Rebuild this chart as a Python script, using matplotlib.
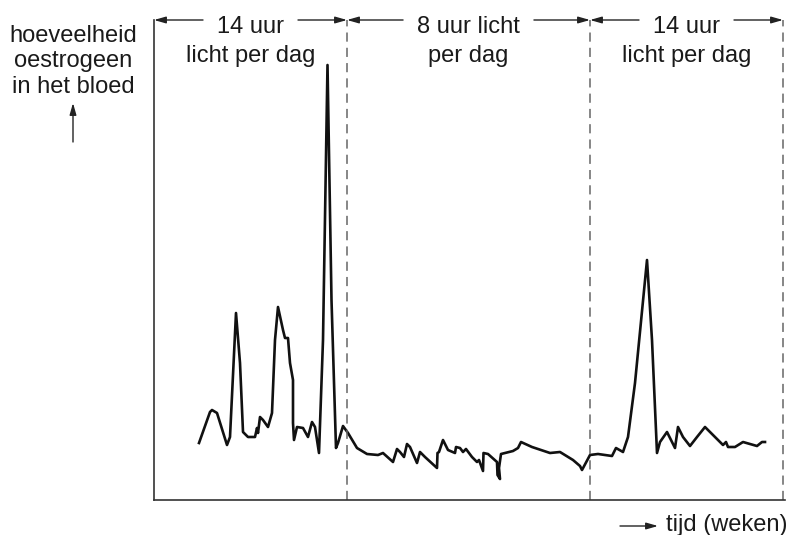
import matplotlib
matplotlib.use('Agg')
import matplotlib.pyplot as plt

# oestrogen curve (time in weeks, arbitrary level)
weeks = [4.5, 5.6, 5.8, 6.3, 7.3, 7.6, 8.2, 8.6, 8.9, 9.4, 10.1, 10.3, 10.4, 10.6,
         10.9, 11.4, 11.8, 12.1, 12.4, 12.9, 13.1, 13.4, 13.6, 13.9, 13.9, 14.0,
         14.3, 14.9, 15.4, 15.8, 16.1, 16.5, 16.9, 17.35, 17.75, 18.2, 18.4, 18.9,
         19.4, 20.3, 21.3, 22.4, 22.9, 23.9, 24.3, 24.6, 25.0, 25.3, 25.6, 26.3,
         26.6, 27.1, 28.3, 28.35, 28.5, 28.9, 29.4, 30.1, 30.2, 30.6, 30.9, 31.2,
         31.8, 32.3, 32.5, 32.9, 32.95, 33.4, 34.3, 34.35, 34.6, 34.5, 34.7, 35.9,
         36.4, 36.7, 37.8, 39.6, 40.6, 41.9, 42.6, 42.8, 43.6, 44.4, 45.8, 46.2,
         46.9, 47.4, 48.1, 49.3, 49.8, 50.3, 50.6, 51.3, 52.1, 52.4, 52.9, 53.6,
         54.3, 55.1, 56.9, 57.2, 57.4, 58.1, 58.9, 60.3, 60.8, 61.1]
level = [5.7, 8.8, 9.0, 8.7, 5.5, 6.3, 18.7, 13.7, 6.8, 6.3, 6.3, 7.2, 6.7, 8.3,
         8.0, 7.3, 8.7, 16.0, 19.3, 17.0, 16.2, 16.2, 13.7, 12.0, 7.7, 6.0,
         7.3, 7.2, 6.3, 7.8, 7.3, 4.7, 16.0, 43.5, 20.0, 5.2, 5.7, 7.4,
         6.7, 5.2, 4.6, 4.5, 4.7, 3.8, 5.1, 4.8, 4.3, 5.6, 5.3, 3.7,
         4.8, 4.3, 3.2, 4.7, 4.8, 6.0, 5.0, 4.7, 5.3, 5.2, 4.8, 5.1,
         4.3, 3.8, 4.0, 2.9, 4.7, 4.6, 3.8, 2.5, 2.1, 3.2, 4.6, 4.9,
         5.2, 5.8, 5.3, 4.7, 4.8, 4.0, 3.4, 3.0, 4.5, 4.6, 4.4, 5.2,
         4.8, 6.3, 11.7, 24.0, 16.0, 4.7, 5.8, 6.8, 5.2, 7.3, 6.3, 5.4,
         6.3, 7.3, 5.5, 5.8, 5.3, 5.3, 5.8, 5.4, 5.8, 5.8]

phase_edges = [0, 19.3, 43.6, 62.9]
phase_line1 = ['14 uur', '8 uur licht', '14 uur']
phase_line2 = ['licht per dag', 'per dag', 'licht per dag']

plt.rcParams['font.family'] = ['Liberation Sans', 'DejaVu Sans']
txt = '#1a1a1a'
fs = 17

fig = plt.figure(figsize=(7.88, 5.35), dpi=100)
ax = fig.add_axes([154/788, 35/535, 631/788, 480/535])
ax.plot(weeks, level, color='#111111', lw=1.9, solid_joinstyle='round')
ax.set_xlim(0, 63.1)
ax.set_ylim(0, 48)
ax.set_xticks([])
ax.set_yticks([])
for s in ['top', 'right']:
    ax.spines[s].set_visible(False)
for s in ['left', 'bottom']:
    ax.spines[s].set_color('#333333')
    ax.spines[s].set_linewidth(1.2)

ax.vlines(phase_edges[1:], 0, 48, colors='#666666', linestyles=(0, (6, 4)), lw=1.1)

# phase labels with arrows running to the boundaries
top = 48
tops = []
for i in range(3):
    mid = (phase_edges[i] + phase_edges[i+1]) / 2
    t = ax.text(mid, 46.7, phase_line1[i], ha='center', va='baseline',
                fontsize=fs, color=txt)
    ax.text(mid, 43.8, phase_line2[i], ha='center', va='baseline',
            fontsize=fs, color=txt)
    tops.append(t)

fig.canvas.draw()
inv = ax.transData.inverted()
pad = 1.4
astyle = dict(arrowstyle='-|>,head_length=0.7,head_width=0.2', color='#222222',
              lw=1.0, shrinkA=0, shrinkB=0)
for i, t in enumerate(tops):
    bb = t.get_window_extent()
    x0 = inv.transform((bb.x0, 0))[0]
    x1 = inv.transform((bb.x1, 0))[0]
    ax.annotate('', xy=(phase_edges[i], top), xytext=(x0 - pad, top),
                arrowprops=astyle, annotation_clip=False)
    ax.annotate('', xy=(phase_edges[i+1], top), xytext=(x1 + pad, top),
                arrowprops=astyle, annotation_clip=False)

# axis labels
fig.text(73/788, 1 - 25/535, 'hoeveelheid\noestrogeen\nin het bloed', ha='center',
         va='top', fontsize=fs, color=txt, linespacing=1.2)
ax.annotate('', xy=(73/788, 1 - 103/535), xytext=(73/788, 1 - 142/535),
            xycoords='figure fraction', arrowprops=astyle)
ax.annotate('', xy=(658/788, 9/535), xytext=(620/788, 9/535),
            xycoords='figure fraction', arrowprops=astyle)
fig.text(666/788, 4/535, 'tijd (weken)', ha='left', va='baseline',
         fontsize=fs, color=txt)

fig.savefig('out.png', dpi=100)
